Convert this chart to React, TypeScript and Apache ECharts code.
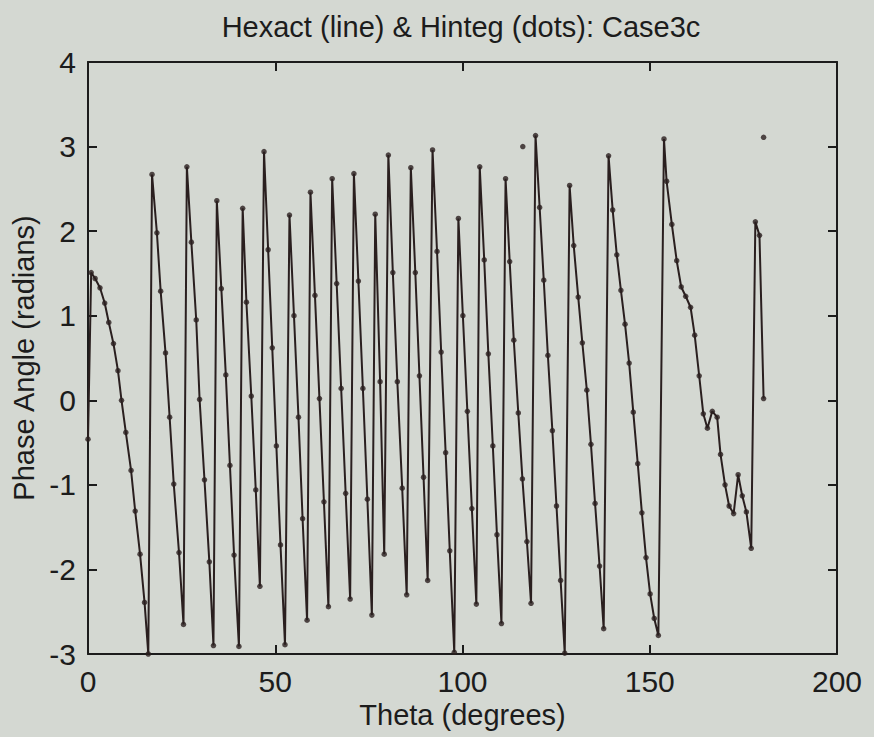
import React, { useEffect, useRef } from "react";
import * as echarts from "echarts";

// Theta (degrees) and phase angle (radians), read segment by segment
const theta: number[] = [
  0, 0.85, 1.9, 3.2, 4.46, 5.55, 6.8, 8.0, 8.95, 10.1, 11.5, 12.6, 13.9, 15.1, 16.1,
  17.1, 18.4, 19.4, 20.7, 21.8, 22.9, 24.3, 25.5,
  26.4, 27.6, 28.9, 29.8, 31.1, 32.4, 33.5,
  34.4, 35.6, 36.8, 37.9, 39.0, 40.3,
  41.3, 42.3, 43.6, 44.8, 45.9,
  47.0, 48.1, 49.2, 50.3, 51.4, 52.6,
  53.8, 55.0, 56.2, 57.3, 58.5,
  59.4, 60.6, 61.8, 63.0, 64.2,
  65.2, 66.4, 67.6, 68.8, 70.0,
  71.0, 72.2, 73.4, 74.6, 75.8,
  76.7, 78.0, 79.1,
  80.2, 81.4, 82.6, 83.9, 85.1,
  86.2, 87.4, 88.5, 89.6, 90.7,
  92.0, 93.2, 94.3, 95.5, 96.6, 97.8,
  98.9, 100.1, 101.3, 102.5, 103.7,
  104.6, 105.8, 106.9, 108.1, 109.2, 110.4,
  111.5, 112.6, 113.7, 114.9, 116.0, 117.2, 118.3,
  119.5, 120.6, 121.7, 122.8, 124.0, 125.1, 126.2, 127.3,
  128.6, 129.7, 130.9, 132.0, 133.2, 134.3, 135.4, 136.6, 137.7,
  139.0, 140.1, 141.2, 142.3, 143.4, 144.5, 145.6, 146.8, 147.9, 149.0, 150.1, 151.2, 152.3,
  153.8, 154.5, 155.9, 157.2, 158.4, 159.6, 160.9, 162.0, 163.2, 164.3, 165.4, 166.7, 168.0, 168.9, 170.1, 171.2, 172.4, 173.6, 174.7, 175.8, 177.1,
  178.2, 179.3, 180.4,
];

const phase: number[] = [
  -0.46, 1.51, 1.44, 1.33, 1.15, 0.92, 0.67, 0.35, 0.0, -0.38, -0.83, -1.31, -1.82, -2.39, -3.0,
  2.67, 1.98, 1.29, 0.56, -0.2, -0.99, -1.8, -2.65,
  2.76, 1.87, 0.95, 0.01, -0.94, -1.91, -2.9,
  2.36, 1.32, 0.3, -0.77, -1.83, -2.91,
  2.27, 1.16, 0.05, -1.06, -2.2,
  2.94, 1.78, 0.62, -0.54, -1.71, -2.89,
  2.19, 1.0, -0.2, -1.4, -2.6,
  2.46, 1.24, 0.02, -1.2, -2.44,
  2.62, 1.38, 0.14, -1.1, -2.35,
  2.68, 1.41, 0.14, -1.17, -2.54,
  2.2, 0.22, -1.82,
  2.9, 1.51, 0.22, -1.04, -2.3,
  2.75, 1.51, 0.29, -0.91, -2.13,
  2.96, 1.76, 0.57, -0.62, -1.78, -2.98,
  2.15, 1.0, -0.13, -1.28, -2.41,
  2.76, 1.66, 0.55, -0.54, -1.59, -2.64,
  2.62, 1.64, 0.71, -0.15, -0.93, -1.67, -2.4,
  3.13, 2.28, 1.42, 0.53, -0.36, -1.25, -2.13, -2.99,
  2.54, 1.83, 1.22, 0.68, 0.12, -0.52, -1.22, -1.96, -2.7,
  2.89, 2.25, 1.72, 1.3, 0.9, 0.44, -0.14, -0.75, -1.33, -1.86, -2.29, -2.58, -2.78,
  3.09, 2.59, 2.08, 1.65, 1.34, 1.23, 1.1, 0.77, 0.29, -0.16, -0.33, -0.13, -0.2, -0.64, -1.0, -1.25, -1.34, -0.88, -1.13, -1.32, -1.75,
  2.11, 1.95, 0.02,
];

// Hinteg dots that do not sit on the exact line
const strayTheta: number[] = [116.1, 180.4];
const strayPhase: number[] = [3.0, 3.11];

const xTicks = { min: 0, max: 200, interval: 50 };
const yTicks = { min: -3, max: 4, interval: 1 };

const INK = "#2a1f1f";
const TEXT = "#1c1c1c";
const FONT = "'Liberation Sans', Arial, Helvetica, sans-serif";

export default function App() {
  const ref = useRef<HTMLDivElement>(null);

  useEffect(() => {
    if (!ref.current) return;
    const chart = echarts.init(ref.current, undefined, { renderer: "svg" });

    const lineData = theta.map((t, i) => [t, phase[i]]);
    const dotData = lineData.concat(strayTheta.map((t, i) => [t, strayPhase[i]]));

    const axisLine = { show: true, onZero: false, lineStyle: { color: TEXT, width: 2 } };
    const axisTick = { show: true, inside: true, length: 9, lineStyle: { color: TEXT, width: 2 } };
    const label = { color: TEXT, fontSize: 30, fontFamily: FONT };

    chart.setOption({
      animation: false,
      backgroundColor: "#d4d8d2",
      title: {
        text: "Hexact (line) & Hinteg (dots): Case3c",
        left: 456,
        top: 7,
        textAlign: "center",
        textStyle: { color: TEXT, fontSize: 29, fontWeight: "normal", fontFamily: FONT },
      },
      grid: { left: 88, right: 37, top: 62, bottom: 83, containLabel: false },
      xAxis: [
        {
          type: "value",
          position: "bottom",
          ...xTicks,
          axisLine,
          axisTick,
          splitLine: { show: false },
          axisLabel: { ...label, margin: 12 },
          name: "Theta (degrees)",
          nameLocation: "middle",
          nameGap: 46,
          nameTextStyle: { color: TEXT, fontSize: 29, fontFamily: FONT },
        },
        {
          type: "value",
          position: "top",
          ...xTicks,
          axisLine,
          axisTick,
          splitLine: { show: false },
          axisLabel: { show: false },
        },
      ],
      yAxis: [
        {
          type: "value",
          position: "left",
          ...yTicks,
          axisLine,
          axisTick,
          splitLine: { show: false },
          axisLabel: { ...label, margin: 12 },
          name: "Phase Angle (radians)",
          nameLocation: "middle",
          nameGap: 40,
          nameRotate: 90,
          nameTextStyle: { color: TEXT, fontSize: 29, fontFamily: FONT },
        },
        {
          type: "value",
          position: "right",
          ...yTicks,
          axisLine,
          axisTick,
          splitLine: { show: false },
          axisLabel: { show: false },
        },
      ],
      series: [
        {
          name: "Hexact",
          type: "line",
          data: lineData,
          showSymbol: false,
          lineStyle: { color: INK, width: 2 },
          itemStyle: { color: INK },
          z: 2,
        },
        {
          name: "Hinteg",
          type: "scatter",
          data: dotData,
          symbol: "circle",
          symbolSize: 5.5,
          itemStyle: { color: INK },
          z: 3,
        },
      ],
    });

    return () => chart.dispose();
  }, []);

  return (
    <div
      ref={ref}
      style={{ position: "fixed", left: 0, top: 0, width: 874, height: 737 }}
    />
  );
}
